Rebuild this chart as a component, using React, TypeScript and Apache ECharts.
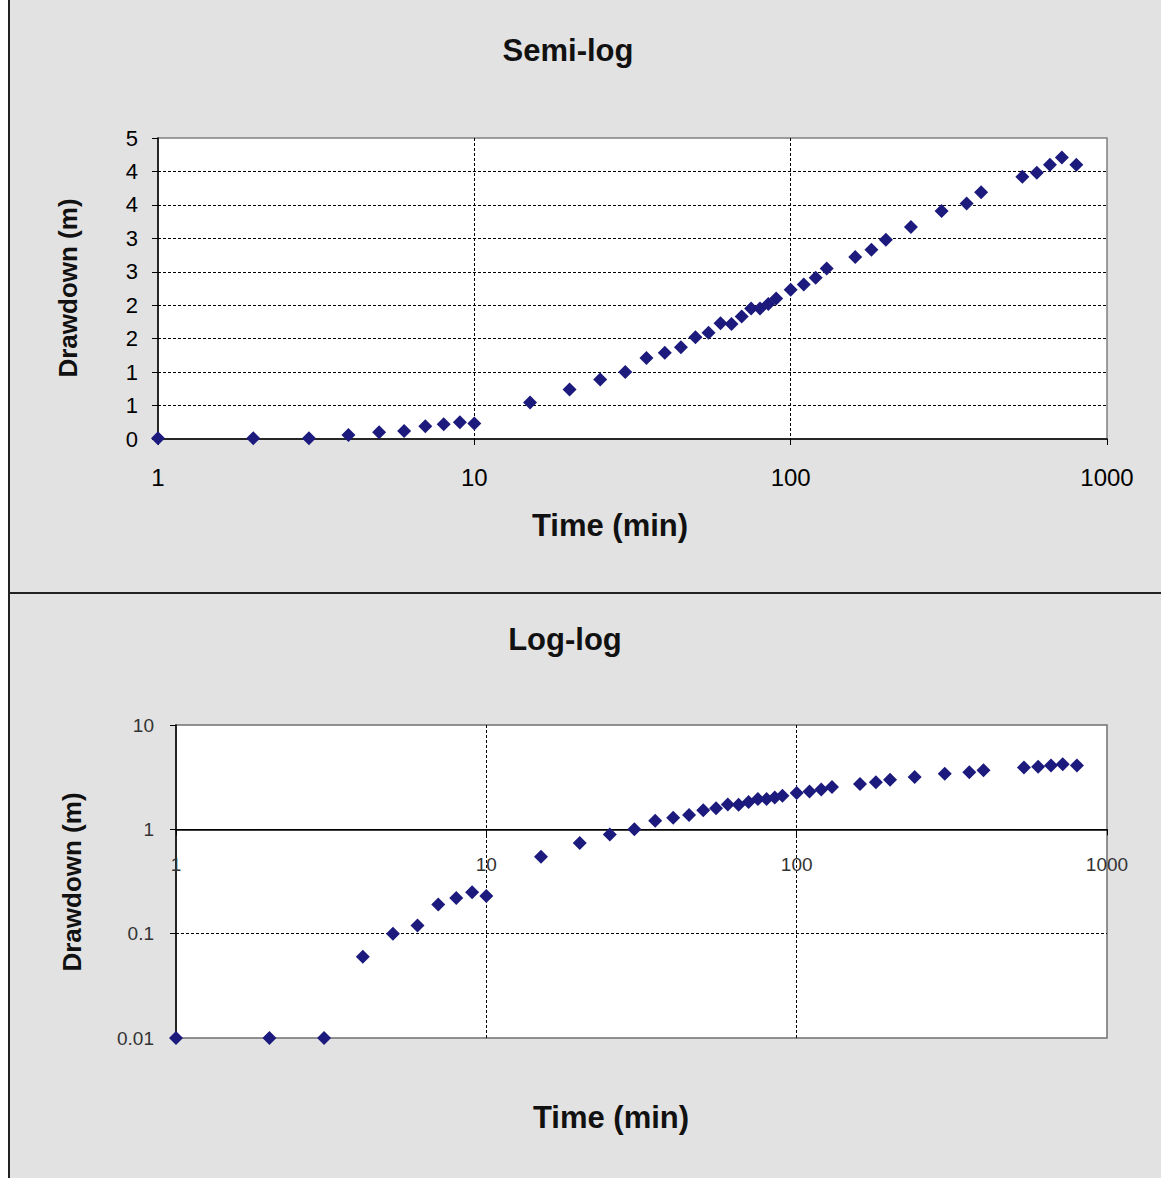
import React, { useEffect, useRef } from "react";
import * as echarts from "echarts";

// Time since start of pumping (min)
const times = [
  1, 2, 3, 4, 5, 6, 7, 8, 9, 10, 15, 20, 25, 30, 35, 40, 45, 50, 55, 60, 65, 70, 75, 80, 85, 90,
  100, 110, 120, 130, 160, 180, 200, 240, 300, 360, 400, 540, 600, 660, 720, 800,
];
// Drawdown (m)
const drawdown = [
  0.01, 0.01, 0.01, 0.06, 0.1, 0.12, 0.19, 0.22, 0.25, 0.23, 0.545, 0.74, 0.89, 1.0, 1.21, 1.29,
  1.37, 1.52, 1.59, 1.73, 1.72, 1.83, 1.95, 1.95, 2.02, 2.1, 2.23, 2.31, 2.41, 2.55, 2.72, 2.83,
  2.98, 3.17, 3.41, 3.52, 3.69, 3.92, 3.98, 4.1, 4.21, 4.1,
];
const logYTickLabels = ["0.01", "0.1", "1", "10"];
const logXTickLabels = ["1", "10", "100", "1000"];

const FONT = "'Liberation Sans', Arial, sans-serif";
const MARKER = "#1c1a7c";

export default function App() {
  const ref = useRef<HTMLDivElement>(null);
  useEffect(() => {
    if (!ref.current) return;
    const chart = echarts.init(ref.current, null, { renderer: "svg" });
    const pts = times.map((t, i) => [t, drawdown[i]]);
    const g1 = { left: 158, top: 138, width: 949, height: 301 };
    const g2 = { left: 176, top: 725, width: 931, height: 313 };
    const dashed = { type: [3, 2], color: "#000", width: 1 };
    const titleText = (text: string, x: number, y: number, size: number, rot = 0) => ({
      type: "text",
      x,
      y,
      rotation: rot,
      style: {
        text,
        align: "center",
        verticalAlign: "middle",
        fontSize: size,
        fontWeight: "bold",
        fontFamily: FONT,
        fill: "#111",
      },
      z: 10,
    });
    const xLabel = (v: number) => logXTickLabels[Math.round(Math.log10(v))] ?? String(v);
    chart.setOption({
      animation: false,
      backgroundColor: "#e2e2e2",
      graphic: [
        { type: "rect", shape: { x: 0, y: 0, width: 8, height: 1178 }, style: { fill: "#fff" }, z: 1 },
        { type: "line", shape: { x1: 9, y1: 0, x2: 9, y2: 1178 }, style: { stroke: "#222", lineWidth: 2 }, z: 1 },
        { type: "line", shape: { x1: 9, y1: 593, x2: 1161, y2: 593 }, style: { stroke: "#222", lineWidth: 2 }, z: 1 },
        titleText("Semi-log", 568, 50, 31),
        titleText("Time (min)", 610, 525, 31),
        titleText("Drawdown (m)", 68, 288, 26, Math.PI / 2),
        titleText("Log-log", 565, 639, 31),
        titleText("Time (min)", 611, 1117, 31),
        titleText("Drawdown (m)", 72, 882, 26, Math.PI / 2),
      ],
      grid: [
        { ...g1, show: true, backgroundColor: "#fff", borderColor: "#808080", borderWidth: 1.5 },
        { ...g2, show: true, backgroundColor: "#fff", borderColor: "#707070", borderWidth: 1.5 },
      ],
      xAxis: [
        {
          gridIndex: 0,
          type: "log",
          logBase: 10,
          min: 1,
          max: 1000,
          axisLine: { show: true, lineStyle: { color: "#000", width: 1.5 } },
          axisTick: { show: true, length: 6, lineStyle: { color: "#000" } },
          minorTick: { show: false },
          axisLabel: { fontSize: 24, color: "#000", margin: 26, fontFamily: FONT, formatter: xLabel },
          splitLine: { show: true, showMinLine: false, showMaxLine: false, lineStyle: dashed },
        },
        {
          gridIndex: 1,
          type: "log",
          logBase: 10,
          min: 1,
          max: 1000,
          offset: -(g2.height * 2) / 3,
          axisLine: { show: true, lineStyle: { color: "#000", width: 1.5 } },
          axisTick: { show: true, length: 6, lineStyle: { color: "#000" } },
          minorTick: { show: false },
          axisLabel: { fontSize: 19, color: "#333", margin: 26, fontFamily: FONT, formatter: xLabel },
          splitLine: { show: true, showMinLine: false, showMaxLine: false, lineStyle: dashed },
        },
      ],
      yAxis: [
        {
          gridIndex: 0,
          type: "value",
          min: 0,
          max: 4.5,
          interval: 0.5,
          axisLine: { show: true, lineStyle: { color: "#000", width: 1.5 } },
          axisTick: { show: true, length: 6, lineStyle: { color: "#000" } },
          axisLabel: {
            fontSize: 22,
            color: "#000",
            margin: 20,
            fontFamily: FONT,
            formatter: (v: number) => String(Math.round(v)),
          },
          splitLine: { show: true, showMinLine: false, showMaxLine: false, lineStyle: dashed },
        },
        {
          gridIndex: 1,
          type: "log",
          logBase: 10,
          min: 0.01,
          max: 10,
          axisLine: { show: true, lineStyle: { color: "#000", width: 1.5 } },
          axisTick: { show: true, length: 6, lineStyle: { color: "#000" } },
          minorTick: { show: false },
          axisLabel: {
            fontSize: 19,
            color: "#333",
            margin: 22,
            fontFamily: FONT,
            formatter: (v: number) => logYTickLabels[Math.round(Math.log10(v)) + 2] ?? String(v),
          },
          splitLine: { show: true, showMinLine: false, showMaxLine: false, lineStyle: dashed },
        },
      ],
      series: [
        {
          type: "scatter",
          xAxisIndex: 0,
          yAxisIndex: 0,
          symbol: "diamond",
          symbolSize: 14,
          itemStyle: { color: MARKER, opacity: 1 },
          data: pts,
          z: 5,
        },
        {
          type: "scatter",
          xAxisIndex: 1,
          yAxisIndex: 1,
          symbol: "diamond",
          symbolSize: 14,
          itemStyle: { color: MARKER, opacity: 1 },
          data: pts,
          z: 5,
          markLine: {
            silent: true,
            symbol: "none",
            label: { show: false },
            lineStyle: { type: "solid", color: "#000", width: 1.2 },
            data: [{ yAxis: 1 }],
            z: 1,
          },
        },
      ],
    });
    return () => chart.dispose();
  }, []);
  return (
    <div
      ref={ref}
      style={{ position: "absolute", left: 0, top: 0, width: 1161, height: 1178 }}
    />
  );
}
